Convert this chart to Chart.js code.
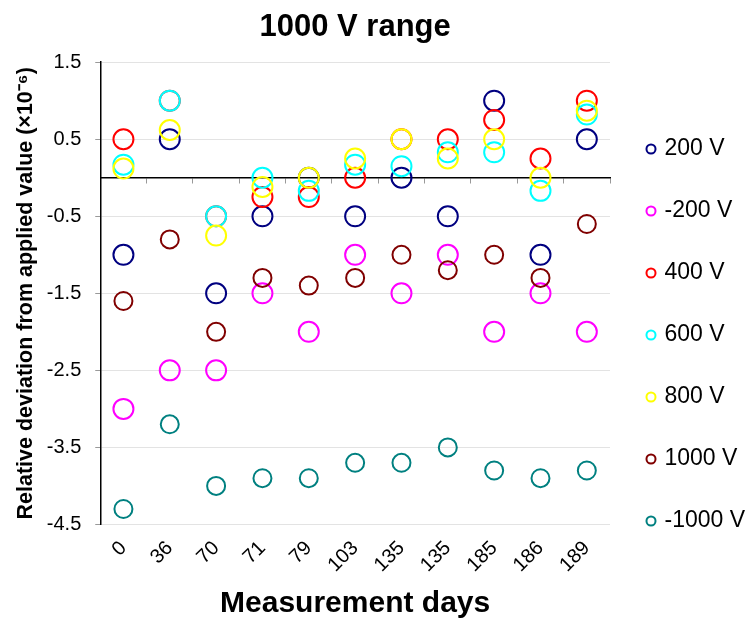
<!DOCTYPE html>
<html>
<head>
<meta charset="utf-8">
<script src="https://cdn.jsdelivr.net/npm/chart.js@4"></script>
<style>
  body { margin: 0; background: #fff; }
  #wrap { width: 750px; height: 619px; position: relative; }
</style>
</head>
<body>
<div id="wrap"><canvas id="myChart"></canvas></div>
<script>
'use strict';

// Measurement days (category labels, 135 appears twice)
const days = ['0', '36', '70', '71', '79', '103', '135', '135', '185', '186', '189'];

// Relative deviation (x10^-6) per applied voltage
const v200 = [-1.0, 0.5, -1.5, -0.5, 0, -0.5, 0, -0.5, 1.0, -1.0, 0.5];
const vNeg200 = [-3.0, -2.5, -2.5, -1.5, -2.0, -1.0, -1.5, -1.0, -2.0, -1.5, -2.0];
const v400 = [0.5, 1.0, -0.5, -0.25, -0.25, 0, 0.5, 0.5, 0.75, 0.25, 1.0];
const v600 = [0.17, 1.0, -0.5, 0, -0.17, 0.17, 0.15, 0.33, 0.33, -0.17, 0.82];
const v800 = [0.12, 0.62, -0.75, -0.12, 0, 0.25, 0.5, 0.25, 0.5, 0, 0.87];
const v1000 = [-1.6, -0.8, -2.0, -1.3, -1.4, -1.3, -1.0, -1.2, -1.0, -1.3, -0.6];
const vNeg1000 = [-4.3, -3.2, -4.0, -3.9, -3.9, -3.7, -3.7, -3.5, -3.8, -3.9, -3.8];

const seriesNames = ['200 V', '-200 V', '400 V', '600 V', '800 V', '1000 V', '-1000 V'];
const seriesData = [v200, vNeg200, v400, v600, v800, v1000, vNeg1000];
const seriesColors = ['#000080', '#ff00ff', '#ff0000', '#00ffff', '#ffff00', '#800000', '#008080'];
const seriesRadius = [10, 10, 10, 10, 10, 9, 9];

const yTicks = [1.5, 0.5, -0.5, -1.5, -2.5, -3.5, -4.5];

Chart.defaults.font.family = '"Liberation Sans", Arial, sans-serif';
Chart.defaults.color = '#000';

const datasets = seriesNames.map((name, i) => {
  return {
    label: name,
    data: seriesData[i],
    showLine: false,
    pointStyle: 'circle',
    pointRadius: seriesRadius[i],
    pointHoverRadius: seriesRadius[i],
    pointBorderWidth: 2,
    pointBorderColor: seriesColors[i],
    pointBackgroundColor: 'rgba(0,0,0,0)',
    borderColor: seriesColors[i],
    backgroundColor: 'rgba(0,0,0,0)',
    // later series are painted on top, like the original
    order: seriesNames.length - i
  };
});

const ctx = document.querySelector('#myChart').getContext('2d');
const myChart = new Chart(ctx, {
  type: 'line',
  data: {
    labels: days,
    datasets: datasets
  },
  options: {
    responsive: true,
    maintainAspectRatio: false,
    animation: false,
    layout: { padding: 0 },
    scales: {
      // axis line crossing at y = 0
      x: {
        type: 'category',
        position: { y: 0 },
        offset: true,
        grid: {
          offset: true,
          drawOnChartArea: false,
          drawTicks: true,
          tickLength: 5,
          color: '#999'
        },
        border: { color: '#000', width: 1.5 },
        ticks: { display: false }
      },
      // labels + title at the bottom
      x2: {
        type: 'category',
        position: 'bottom',
        offset: true,
        grid: { display: false, drawTicks: false },
        border: { display: false },
        ticks: {
          font: { size: 20 },
          minRotation: 45,
          maxRotation: 45,
          autoSkip: false,
          padding: 12
        },
        title: {
          display: true,
          text: 'Measurement days',
          font: { size: 30, weight: 'bold', lineHeight: 1 },
          padding: { top: 0, bottom: 0 }
        }
      },
      y: {
        min: -4.5,
        max: 1.5,
        afterBuildTicks: (scale) => {
          scale.ticks = yTicks.map(v => ({ value: v }));
        },
        ticks: {
          font: { size: 20 },
          padding: 14,
          callback: (value) => value
        },
        grid: {
          color: '#e3e3e3',
          tickColor: '#999',
          tickLength: 5
        },
        border: { color: '#000', width: 1.5 },
        title: {
          display: true,
          text: 'Relative deviation from applied value (×10⁻⁶)',
          font: { size: 21.5, weight: 'bold' },
          padding: { top: 13, bottom: -6 }
        }
      }
    },
    plugins: {
      title: {
        display: true,
        text: '1000 V range',
        fullSize: false,
        font: { size: 31, weight: 'bold' },
        padding: { top: 9, bottom: 16 }
      },
      legend: {
        position: 'right',
        maxWidth: 140,
        title: {
          display: true,
          text: ' ',
          font: { size: 10, lineHeight: 1 },
          padding: { top: 20.5, bottom: 20.5 }
        },
        labels: {
          usePointStyle: true,
          boxWidth: 4,
          boxHeight: 6.4,
          padding: 39,
          font: { size: 23 },
          sort: (a, b) => a.datasetIndex - b.datasetIndex
        }
      },
      tooltip: { enabled: false }
    }
  }
});
</script>
</body>
</html>
